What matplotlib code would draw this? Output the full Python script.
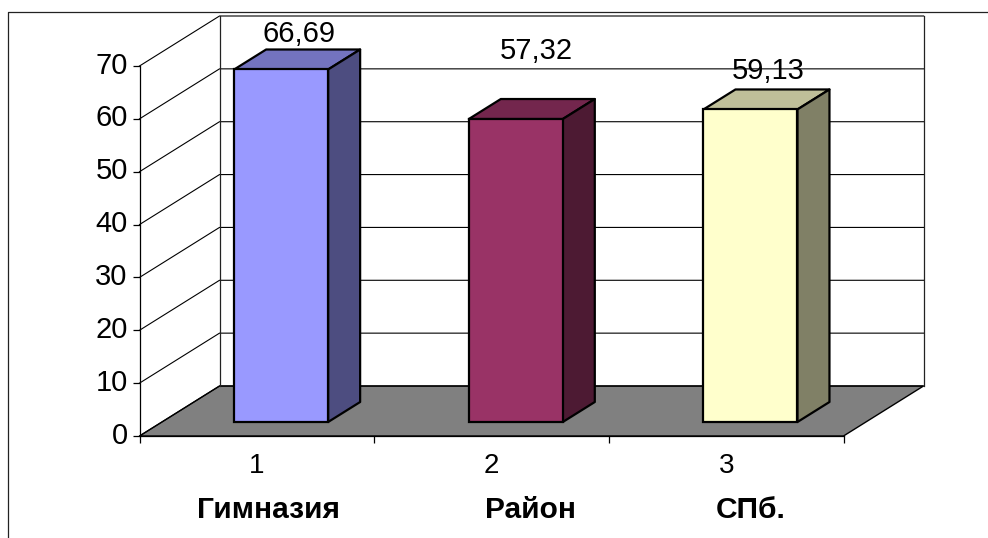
import matplotlib
matplotlib.use("Agg")
import matplotlib.pyplot as plt
from matplotlib.lines import Line2D
from matplotlib.patches import Polygon
from matplotlib.transforms import ScaledTranslation

plt.rcParams['font.family'] = ['Liberation Sans', 'DejaVu Sans']

positions = [1, 2, 3]
tick_labels = ['1', '2', '3']
names = ['Гимназия', 'Район', 'СПб.']
values = [66.69, 57.32, 59.13]
value_labels = ['66,69', '57,32', '59,13']
yticks = [0, 10, 20, 30, 40, 50, 60, 70]

front_colors = ['#9999FF', '#993366', '#FFFFCC']
top_colors = ['#7373BF', '#73264D', '#BFBF99']
side_colors = ['#4D4D80', '#4D1A33', '#808066']

W, H = 988, 538
fig = plt.figure(figsize=(W / 100, H / 100), dpi=100)
ax = fig.add_axes([139.5 / W, 1 - 436 / H, 704 / W, 370 / H])
ax.set_xlim(0.5, 3.5)
ax.set_ylim(0, 70)

# size of the 3d box in data units
px_x = 3 / 704
px_y = 70 / 370
depth_x = 80 * px_x
depth_y = 50 * px_y

# walls and floor
floor = Polygon([(0.5, 0), (0.5 + depth_x, depth_y), (3.5 + depth_x, depth_y), (3.5, 0)],
                closed=True, facecolor='#808080', edgecolor='black', lw=1, clip_on=False, zorder=1)
ax.add_patch(floor)
for v in yticks:
    ax.plot([0.5, 0.5 + depth_x, 3.5 + depth_x], [v, v + depth_y, v + depth_y],
            color='black', lw=0.8, clip_on=False, zorder=1)
ax.plot([0.5 + depth_x] * 2, [depth_y, 70 + depth_y], color='#222222', lw=0.9, clip_on=False, zorder=1)
ax.plot([3.5 + depth_x] * 2, [depth_y, 70 + depth_y], color='#222222', lw=0.9, clip_on=False, zorder=1)

# bars stand a little inside the floor, so they start above the front edge
bar_w = 94 * px_x
bar_shift = 24.3 * px_x
base = 14 * px_y
bar_dx = 32 * px_x
bar_dy = 20 * px_y
label_off = [(2, 15), (5, 48), (2, 18)]

for i, x in enumerate(positions):
    left = x + bar_shift - bar_w / 2
    right = left + bar_w
    top = values[i] + base
    ax.bar(x + bar_shift, values[i], bar_w, bottom=base, color=front_colors[i],
           edgecolor='black', lw=1.6, clip_on=False, zorder=4)
    ax.add_patch(Polygon([(left, top), (left + bar_dx, top + bar_dy), (right + bar_dx, top + bar_dy), (right, top)],
                         closed=True, facecolor=top_colors[i], edgecolor='black', lw=1.6,
                         clip_on=False, zorder=3, joinstyle='round'))
    ax.add_patch(Polygon([(right, base), (right + bar_dx, base + bar_dy), (right + bar_dx, top + bar_dy), (right, top)],
                         closed=True, facecolor=side_colors[i], edgecolor='black', lw=1.6,
                         clip_on=False, zorder=3, joinstyle='round'))
    ax.annotate(value_labels[i], (x + bar_shift + bar_dx / 2, top + bar_dy),
                xytext=(label_off[i][0] * 0.72, label_off[i][1] * 0.72), textcoords='offset points',
                ha='center', va='center', fontsize=21, color='black', zorder=6, annotation_clip=False)

# axes
for s in ['top', 'right']:
    ax.spines[s].set_visible(False)
ax.patch.set_visible(False)
for s in ['left', 'bottom']:
    ax.spines[s].set_linewidth(0.9)
    ax.spines[s].set_zorder(5)
ax.set_yticks(yticks)
ax.tick_params(axis='y', labelsize=21, length=5, width=0.9, pad=3.5)
shift_up = ScaledTranslation(0, 2.5 / 72, fig.dpi_scale_trans)
for lab in ax.get_yticklabels():
    lab.set_transform(lab.get_transform() + shift_up)
ax.set_xticks([0.5, 1.5, 2.5, 3.5])
ax.set_xticklabels([])
ax.set_xticks(positions, minor=True)
ax.set_xticklabels(tick_labels, minor=True, fontsize=20)
ax.tick_params(axis='x', which='major', length=5, width=0.9)
ax.tick_params(axis='x', which='minor', length=0, pad=12)

# second label row
name_x = [268, 530, 751]
for nx, name in zip(name_x, names):
    fig.text(nx / W, 1 - 510 / H, name, ha='center', va='center', fontsize=21.5, fontweight='bold')

# outer border, only left and top show
fig.add_artist(Line2D([8 / W, 8 / W, 1], [0, 1 - 12 / H, 1 - 12 / H], color='#222222', lw=0.9))

fig.savefig('out.png', dpi=100)
